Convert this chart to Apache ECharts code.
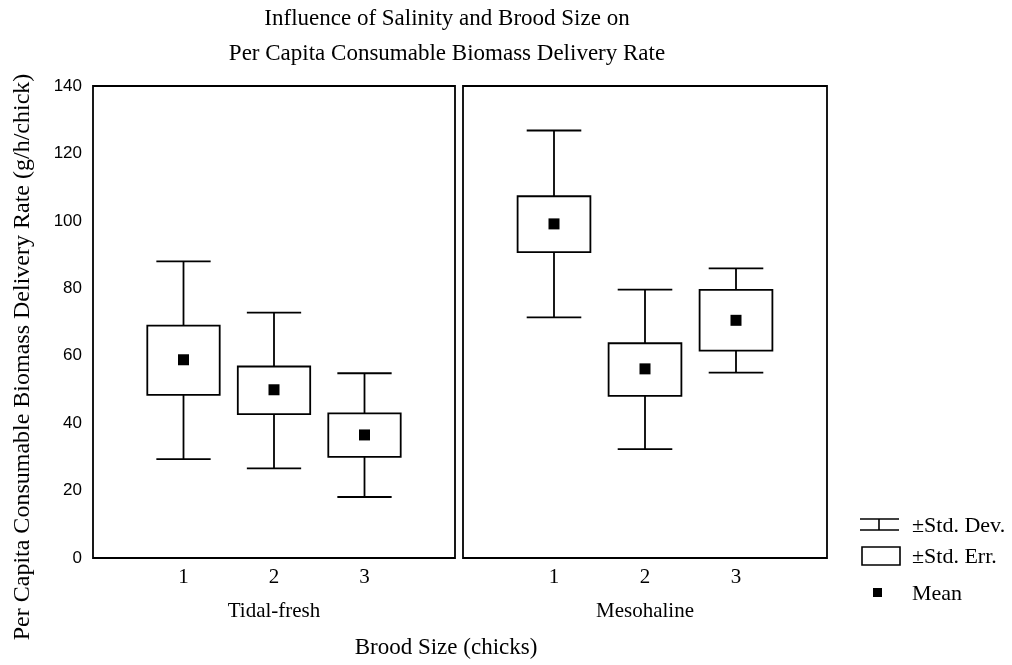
<!DOCTYPE html>
<html>
<head>
<meta charset="utf-8">
<script src="https://cdn.jsdelivr.net/npm/echarts@6/dist/echarts.min.js"></script>
<style>
  html, body { margin: 0; padding: 0; background: #fff; }
  #main { width: 1012px; height: 665px; }
</style>
</head>
<body>
<div id="main"></div>
<script>
  // brood sizes and the two salinity panels
  const broodSizes = [1, 2, 3];
  const panels = ['Tidal-fresh', 'Mesohaline'];

  // Tidal-fresh
  const tidalMean   = [58.8, 49.9, 36.5];
  const tidalSeLow  = [48.4, 42.7, 30.0];
  const tidalSeHigh = [68.9, 56.8, 42.9];
  const tidalSdLow  = [29.3, 26.6, 18.1];
  const tidalSdHigh = [88.0, 72.8, 54.8];

  // Mesohaline
  const mesoMean   = [99.1, 56.1, 70.5];
  const mesoSeLow  = [90.7, 48.1, 61.5];
  const mesoSeHigh = [107.3, 63.7, 79.5];
  const mesoSdLow  = [71.4, 32.3, 55.0];
  const mesoSdHigh = [126.8, 79.6, 85.9];

  const serif = '"Liberation Serif", "Times New Roman", serif';
  const sans = '"Liberation Sans", Arial, sans-serif';

  function boxData(sdLo, seLo, seHi, sdHi) {
    return broodSizes.map((b, i) => [b, sdLo[i], seLo[i], seHi[i], sdHi[i]]);
  }

  // whisker (±SD) with caps, then the ±SE box drawn over it
  function renderBox(params, api) {
    const x = api.value(0);
    const sdLo = api.coord([x, api.value(1)]);
    const seLo = api.coord([x, api.value(2)]);
    const seHi = api.coord([x, api.value(3)]);
    const sdHi = api.coord([x, api.value(4)]);
    const boxW = api.size([0.8, 0])[0];
    const capW = api.size([0.6, 0])[0];
    const line = { stroke: '#000', lineWidth: 1.8 };
    return {
      type: 'group',
      children: [
        { type: 'line', shape: { x1: sdHi[0], y1: sdHi[1], x2: sdLo[0], y2: sdLo[1] }, style: line },
        { type: 'line', shape: { x1: sdHi[0] - capW / 2, y1: sdHi[1], x2: sdHi[0] + capW / 2, y2: sdHi[1] }, style: line },
        { type: 'line', shape: { x1: sdLo[0] - capW / 2, y1: sdLo[1], x2: sdLo[0] + capW / 2, y2: sdLo[1] }, style: line },
        { type: 'rect', shape: { x: seHi[0] - boxW / 2, y: seHi[1], width: boxW, height: seLo[1] - seHi[1] },
          style: { fill: '#fff', stroke: '#000', lineWidth: 1.8 } }
      ]
    };
  }

  function xAxisFor(i) {
    return {
      gridIndex: i, type: 'value', min: 0, max: 4, interval: 1,
      name: panels[i], nameLocation: 'middle', nameGap: 43,
      nameTextStyle: { fontFamily: serif, fontSize: 21, color: '#000' },
      axisLine: { show: false }, axisTick: { show: false }, splitLine: { show: false },
      axisLabel: {
        margin: 9, fontFamily: serif, fontSize: 21, color: '#000',
        formatter: v => (v >= 1 && v <= 3 ? String(v) : '')
      }
    };
  }

  function yAxisFor(i) {
    return {
      gridIndex: i, type: 'value', min: 0, max: 140, interval: 20,
      axisLine: { show: false }, axisTick: { show: false }, splitLine: { show: false },
      axisLabel: { show: i === 0, margin: 11, fontFamily: sans, fontSize: 17, color: '#000' }
    };
  }

  const chart = echarts.init(document.getElementById('main'), null, { renderer: 'canvas' });
  chart.setOption({
    animation: false,
    backgroundColor: '#fff',
    title: {
      text: 'Influence of Salinity and Brood Size on\nPer Capita Consumable Biomass Delivery Rate',
      left: 442, textAlign: 'center', top: -4,
      textStyle: { fontFamily: serif, fontSize: 23, fontWeight: 'normal', color: '#000', lineHeight: 35 }
    },
    grid: [
      { left: 93, top: 86, width: 362, height: 472, show: true, borderColor: '#000', borderWidth: 1.8, backgroundColor: 'transparent' },
      { left: 463, top: 86, width: 364, height: 472, show: true, borderColor: '#000', borderWidth: 1.8, backgroundColor: 'transparent' }
    ],
    xAxis: [xAxisFor(0), xAxisFor(1)],
    yAxis: [yAxisFor(0), yAxisFor(1)],
    series: [
      { type: 'custom', name: '±Std. Err.', xAxisIndex: 0, yAxisIndex: 0, z: 2,
        renderItem: renderBox, encode: { x: 0, y: [1, 2, 3, 4] },
        data: boxData(tidalSdLow, tidalSeLow, tidalSeHigh, tidalSdHigh) },
      { type: 'custom', name: '±Std. Err.', xAxisIndex: 1, yAxisIndex: 1, z: 2,
        renderItem: renderBox, encode: { x: 0, y: [1, 2, 3, 4] },
        data: boxData(mesoSdLow, mesoSeLow, mesoSeHigh, mesoSdHigh) },
      { type: 'scatter', name: 'Mean', xAxisIndex: 0, yAxisIndex: 0, z: 3,
        symbol: 'rect', symbolSize: 11, itemStyle: { color: '#000', opacity: 1 },
        data: broodSizes.map((b, i) => [b, tidalMean[i]]) },
      { type: 'scatter', name: 'Mean', xAxisIndex: 1, yAxisIndex: 1, z: 3,
        symbol: 'rect', symbolSize: 11, itemStyle: { color: '#000', opacity: 1 },
        data: broodSizes.map((b, i) => [b, mesoMean[i]]) }
    ],
    graphic: [
      // y axis title
      { type: 'text', x: 23, y: 357, rotation: Math.PI / 2,
        style: { text: 'Per Capita Consumable Biomass Delivery Rate (g/h/chick)', fontFamily: serif, fontSize: 24,
          fill: '#000', align: 'center', verticalAlign: 'middle' } },
      // x axis title
      { type: 'text', x: 446, y: 648,
        style: { text: 'Brood Size (chicks)', fontFamily: serif, fontSize: 23, fill: '#000',
          align: 'center', verticalAlign: 'middle' } },
      // legend
      { type: 'line', shape: { x1: 860, y1: 519, x2: 899, y2: 519 }, style: { stroke: '#000', lineWidth: 1.6 } },
      { type: 'line', shape: { x1: 879, y1: 519, x2: 879, y2: 530 }, style: { stroke: '#000', lineWidth: 1.6 } },
      { type: 'line', shape: { x1: 860, y1: 530, x2: 899, y2: 530 }, style: { stroke: '#000', lineWidth: 1.6 } },
      { type: 'text', x: 912, y: 526,
        style: { text: '±Std. Dev.', fontFamily: serif, fontSize: 22, fill: '#000', verticalAlign: 'middle' } },
      { type: 'rect', shape: { x: 862, y: 547, width: 38, height: 18 },
        style: { fill: '#fff', stroke: '#000', lineWidth: 1.6 } },
      { type: 'text', x: 912, y: 557,
        style: { text: '±Std. Err.', fontFamily: serif, fontSize: 22, fill: '#000', verticalAlign: 'middle' } },
      { type: 'rect', shape: { x: 873, y: 588, width: 9, height: 9 }, style: { fill: '#000' } },
      { type: 'text', x: 912, y: 594,
        style: { text: 'Mean', fontFamily: serif, fontSize: 22, fill: '#000', verticalAlign: 'middle' } }
    ]
  });
</script>
</body>
</html>
